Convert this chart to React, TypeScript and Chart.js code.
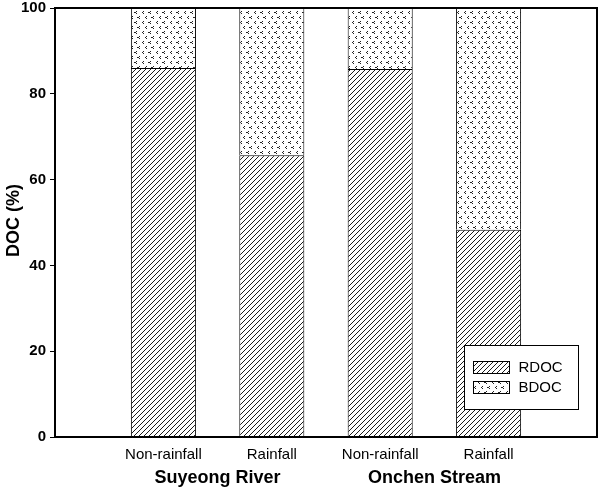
import React, { useEffect, useRef } from "react";
import { Chart, registerables } from "chart.js";

Chart.register(...registerables);

// Sampling conditions (empty slots pad the axis on both sides)
const categories = ["", "Non-rainfall", "Rainfall", "Non-rainfall", "Rainfall", ""];
const groups = ["Suyeong River", "Onchen Stream"];
const groupMembers = [[1, 2], [3, 4]];
// Refractory and biodegradable fractions of DOC (%)
const rdoc = [null, 86.0, 65.7, 85.8, 48.3, null];
const bdoc = [null, 14.0, 34.3, 14.2, 51.7, null];
const seriesNames = ["RDOC", "BDOC"];
const yMin = 0;
const yMax = 100;
const yStep = 20;

const FONT = "'Liberation Sans', Arial, sans-serif";

function makeHatch(ctx: CanvasRenderingContext2D): CanvasPattern {
  const c = document.createElement("canvas");
  c.width = 5;
  c.height = 5;
  const g = c.getContext("2d")!;
  g.fillStyle = "#fff";
  g.fillRect(0, 0, 5, 5);
  g.fillStyle = "#1a1a1a";
  for (let i = 0; i < 5; i++) g.fillRect(i, 4 - i, 1, 1);
  return ctx.createPattern(c, "repeat")!;
}

function makeSpeckle(ctx: CanvasRenderingContext2D): CanvasPattern {
  const c = document.createElement("canvas");
  c.width = 14;
  c.height = 10;
  const g = c.getContext("2d")!;
  g.fillStyle = "#fff";
  g.fillRect(0, 0, 14, 10);
  g.fillStyle = "#222";
  const tick = (x: number, y: number) => {
    g.fillRect(x + 1, y, 1, 1);
    g.fillRect(x, y + 1, 1, 1);
    g.fillRect(x + 1, y + 2, 1, 1);
  };
  const chevron = (x: number, y: number) => {
    g.fillRect(x + 2, y, 1, 1);
    g.fillRect(x + 1, y + 1, 1, 1);
    g.fillRect(x, y + 1, 1, 1);
    g.fillRect(x + 2, y + 2, 1, 1);
  };
  tick(2, 1);
  chevron(8, 1);
  tick(5, 6);
  chevron(11, 6);
  return ctx.createPattern(c, "repeat")!;
}

const decorations = {
  id: "decorations",
  afterDatasetsDraw(chart: any) {
    const { ctx, chartArea: a, scales } = chart;
    const x = scales.x;
    ctx.save();

    // plot frame
    ctx.strokeStyle = "#000";
    ctx.lineWidth = 2;
    ctx.strokeRect(a.left, a.top, a.right - a.left, a.bottom - a.top);

    // legend box
    const bw = 114;
    const bh = 64;
    const bx = Math.round(a.right - 19 - bw) + 0.5;
    const by = Math.round(a.bottom - 28 - bh) + 0.5;
    ctx.fillStyle = "#fff";
    ctx.fillRect(bx, by, bw, bh);
    ctx.lineWidth = 1;
    ctx.strokeRect(bx, by, bw, bh);
    chart.data.datasets.forEach((ds: any, i: number) => {
      const sx = bx + 9;
      const sy = by + 16 + i * 20;
      ctx.fillStyle = ds.backgroundColor;
      ctx.fillRect(sx, sy, 36, 12);
      ctx.strokeStyle = "#000";
      ctx.strokeRect(sx, sy, 36, 12);
      ctx.fillStyle = "#000";
      ctx.font = `15px ${FONT}`;
      ctx.textAlign = "left";
      ctx.textBaseline = "middle";
      ctx.fillText(ds.label, bx + 54, sy + 6.5);
    });

    // group captions under the condition labels
    ctx.fillStyle = "#000";
    ctx.font = `bold 18px ${FONT}`;
    ctx.textAlign = "center";
    ctx.textBaseline = "middle";
    groups.forEach((name, gi) => {
      const [i0, i1] = groupMembers[gi];
      const cx = (x.getPixelForValue(i0) + x.getPixelForValue(i1)) / 2;
      ctx.fillText(name, cx, a.bottom + 41);
    });

    // y-axis title
    ctx.translate(14, (a.top + a.bottom) / 2 - 2);
    ctx.rotate(-Math.PI / 2);
    ctx.font = `bold 18px ${FONT}`;
    ctx.fillText("DOC (%)", 0, 0);
    ctx.restore();
  },
};

export default function App() {
  const ref = useRef<HTMLCanvasElement>(null);

  useEffect(() => {
    const canvas = ref.current!;
    const ctx = canvas.getContext("2d")!;
    const hatch = makeHatch(ctx);
    const speckle = makeSpeckle(ctx);

    const chart = new Chart(canvas, {
      type: "bar",
      data: {
        labels: categories,
        datasets: [
          {
            label: seriesNames[0],
            data: rdoc as any,
            backgroundColor: hatch as any,
            borderColor: "#000",
            borderWidth: 1,
            categoryPercentage: 0.6,
            barPercentage: 1,
          },
          {
            label: seriesNames[1],
            data: bdoc as any,
            backgroundColor: speckle as any,
            borderColor: "#000",
            borderWidth: 1,
            categoryPercentage: 0.6,
            barPercentage: 1,
          },
        ],
      },
      options: {
        animation: false,
        responsive: false,
        devicePixelRatio: 1,
        layout: { padding: { top: 8, right: 3, bottom: 0, left: 0 } },
        plugins: {
          legend: { display: false },
          tooltip: { enabled: false },
        },
        scales: {
          x: {
            stacked: true,
            offset: false,
            grid: { display: false, drawTicks: false },
            border: { display: false },
            ticks: {
              autoSkip: false,
              maxRotation: 0,
              padding: 9,
              color: "#000",
              font: { family: FONT, size: 15 },
            },
            afterFit: (s: any) => {
              s.height = 54;
              s.paddingLeft = 0;
              s.paddingRight = 0;
            },
          },
          y: {
            stacked: true,
            min: yMin,
            max: yMax,
            grid: {
              drawOnChartArea: false,
              drawTicks: true,
              tickLength: 5,
              color: "#000",
              lineWidth: 1,
            },
            border: { display: false },
            ticks: {
              stepSize: yStep,
              padding: 4,
              color: "#000",
              font: { family: FONT, size: 15, weight: "bold" },
            },
            afterFit: (s: any) => {
              s.width = 55;
              s.paddingTop = 0;
              s.paddingBottom = 0;
            },
          },
        },
      },
      plugins: [decorations],
    });
    return () => chart.destroy();
  }, []);

  return (
    <div style={{ position: "fixed", left: 0, top: 0, width: 600, height: 491, background: "#fff" }}>
      <canvas ref={ref} width={600} height={491} />
    </div>
  );
}
